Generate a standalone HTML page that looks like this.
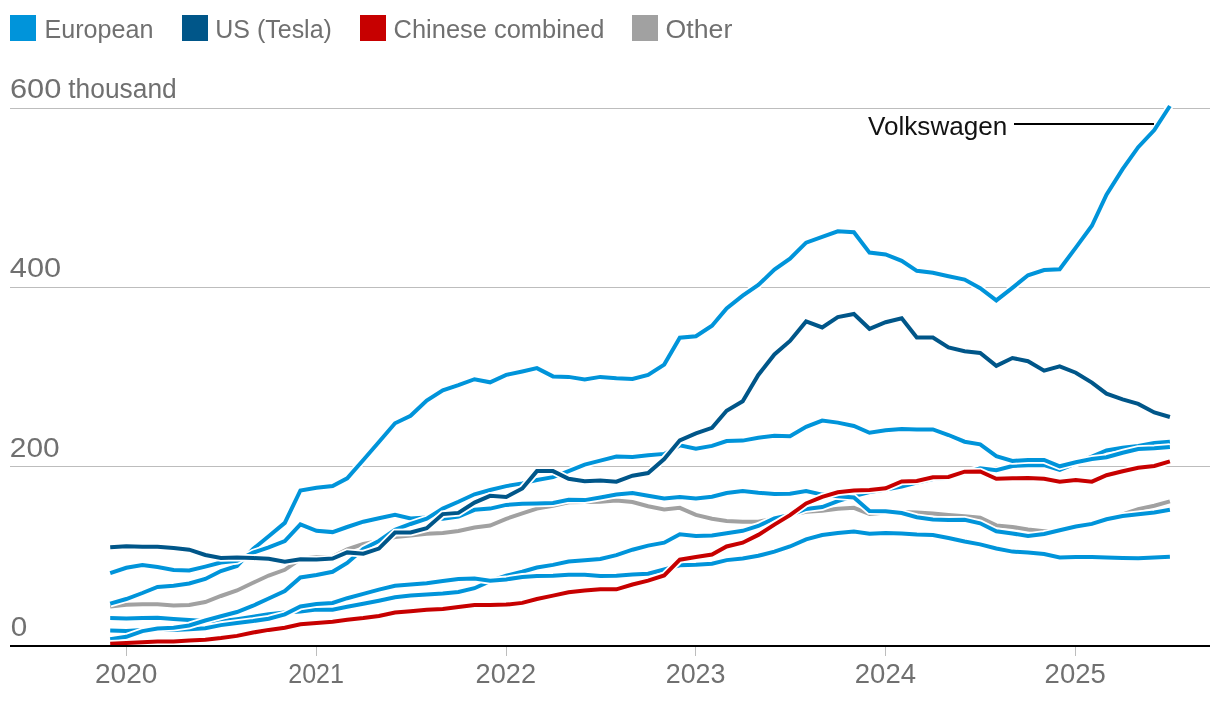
<!DOCTYPE html>
<html><head><meta charset="utf-8"><title>Chart</title>
<style>
html,body{margin:0;padding:0;background:#fff;}
body{width:1220px;height:704px;overflow:hidden;}
svg{display:block}
text{font-family:"Liberation Sans",sans-serif;font-size:26.5px;fill:#707070;}
.ax{font-size:27px}
.ln{fill:none;stroke-linejoin:miter;stroke-linecap:butt;}
</style></head><body>
<svg width="1220" height="704" viewBox="0 0 1220 704">
<rect width="1220" height="704" fill="#fff"/>
<rect x="10" y="15" width="26" height="26" fill="#0094da"/>
<text x="44.4" y="38" textLength="109" lengthAdjust="spacingAndGlyphs">European</text>
<rect x="182" y="15" width="26" height="26" fill="#005689"/>
<text x="215.3" y="38" textLength="116.6" lengthAdjust="spacingAndGlyphs">US (Tesla)</text>
<rect x="360" y="15" width="26" height="26" fill="#c70000"/>
<text x="393.6" y="38" textLength="210.7" lengthAdjust="spacingAndGlyphs">Chinese combined</text>
<rect x="632" y="15" width="26" height="26" fill="#a1a1a1"/>
<text x="665.6" y="38" textLength="66.7" lengthAdjust="spacingAndGlyphs">Other</text>
<rect x="10" y="108" width="1200" height="1" fill="#bdbdbd"/>
<rect x="10" y="287" width="1200" height="1" fill="#bdbdbd"/>
<rect x="10" y="466" width="1200" height="1" fill="#bdbdbd"/>
<text class="ax" y="98.2"><tspan x="9.9" textLength="51.4" lengthAdjust="spacingAndGlyphs">600</tspan><tspan> </tspan><tspan x="68.3" textLength="108.4" lengthAdjust="spacingAndGlyphs">thousand</tspan></text>
<text class="ax" x="9.8" y="277.1" textLength="51.3" lengthAdjust="spacingAndGlyphs">400</text>
<text class="ax" x="9.8" y="457.1" textLength="49.8" lengthAdjust="spacingAndGlyphs">200</text>
<text class="ax" x="10.7" y="635.7" textLength="16.5" lengthAdjust="spacingAndGlyphs">0</text>
<rect x="126" y="647" width="1" height="9" fill="#bdbdbd"/>
<text class="ax" x="95.0" y="683.1" textLength="62.5" lengthAdjust="spacingAndGlyphs">2020</text>
<rect x="316" y="647" width="1" height="9" fill="#bdbdbd"/>
<text class="ax" x="288.2" y="683.1" textLength="55.8" lengthAdjust="spacingAndGlyphs">2021</text>
<rect x="506" y="647" width="1" height="9" fill="#bdbdbd"/>
<text class="ax" x="475.6" y="683.1" textLength="60.4" lengthAdjust="spacingAndGlyphs">2022</text>
<rect x="695" y="647" width="1" height="9" fill="#bdbdbd"/>
<text class="ax" x="665.7" y="683.1" textLength="59.8" lengthAdjust="spacingAndGlyphs">2023</text>
<rect x="885" y="647" width="1" height="9" fill="#bdbdbd"/>
<text class="ax" x="854.8" y="683.1" textLength="61.2" lengthAdjust="spacingAndGlyphs">2024</text>
<rect x="1075" y="647" width="1" height="9" fill="#bdbdbd"/>
<text class="ax" x="1044.6" y="683.1" textLength="61.2" lengthAdjust="spacingAndGlyphs">2025</text>
<path class="ln" d="M110.2,606.6 L126.3,604.7 L142.4,604.3 L157.5,604.3 L173.6,605.6 L189.2,605.0 L205.3,602.0 L220.9,596.0 L237.0,590.5 L253.1,582.8 L268.7,575.5 L284.8,569.8 L300.4,559.0 L316.5,557.0 L332.6,556.8 L347.2,549.3 L363.3,544.0 L378.9,541.0 L395.0,537.0 L410.6,535.5 L426.7,533.8 L442.8,533.0 L458.4,531.0 L474.5,527.5 L490.1,525.6 L506.2,518.8 L522.3,513.4 L536.9,508.6 L553.0,505.7 L568.6,502.2 L584.7,502.0 L600.3,501.8 L616.4,500.6 L632.5,502.0 L648.1,506.2 L664.2,509.5 L679.8,507.8 L695.9,514.9 L712.0,518.8 L726.6,520.9 L742.7,521.7 L758.3,521.7 L774.4,518.5 L790.0,515.0 L806.1,511.8 L822.2,510.8 L837.8,508.8 L853.9,507.8 L869.5,514.0 L885.6,512.5 L901.7,512.0 L916.8,512.4 L932.9,513.6 L948.5,515.0 L964.6,516.2 L980.2,517.8 L996.3,525.4 L1012.4,527.0 L1028.0,529.4 L1044.1,531.2 L1059.7,530.5 L1075.8,526.0 L1091.9,523.0 L1106.5,518.5 L1122.6,514.5 L1138.2,509.1 L1154.3,505.7 L1169.9,501.4" stroke="#fff" stroke-width="7.6"/>
<path class="ln" d="M110.2,606.6 L126.3,604.7 L142.4,604.3 L157.5,604.3 L173.6,605.6 L189.2,605.0 L205.3,602.0 L220.9,596.0 L237.0,590.5 L253.1,582.8 L268.7,575.5 L284.8,569.8 L300.4,559.0 L316.5,557.0 L332.6,556.8 L347.2,549.3 L363.3,544.0 L378.9,541.0 L395.0,537.0 L410.6,535.5 L426.7,533.8 L442.8,533.0 L458.4,531.0 L474.5,527.5 L490.1,525.6 L506.2,518.8 L522.3,513.4 L536.9,508.6 L553.0,505.7 L568.6,502.2 L584.7,502.0 L600.3,501.8 L616.4,500.6 L632.5,502.0 L648.1,506.2 L664.2,509.5 L679.8,507.8 L695.9,514.9 L712.0,518.8 L726.6,520.9 L742.7,521.7 L758.3,521.7 L774.4,518.5 L790.0,515.0 L806.1,511.8 L822.2,510.8 L837.8,508.8 L853.9,507.8 L869.5,514.0 L885.6,512.5 L901.7,512.0 L916.8,512.4 L932.9,513.6 L948.5,515.0 L964.6,516.2 L980.2,517.8 L996.3,525.4 L1012.4,527.0 L1028.0,529.4 L1044.1,531.2 L1059.7,530.5 L1075.8,526.0 L1091.9,523.0 L1106.5,518.5 L1122.6,514.5 L1138.2,509.1 L1154.3,505.7 L1169.9,501.4" stroke="#a1a1a1" stroke-width="4.0"/>
<path class="ln" d="M110.2,603.7 L126.3,599.0 L142.4,593.0 L157.5,586.9 L173.6,585.8 L189.2,583.5 L205.3,579.0 L220.9,571.0 L237.0,566.0 L253.1,549.0 L268.7,536.2 L284.8,522.9 L300.4,490.5 L316.5,487.8 L332.6,486.1 L347.2,478.3 L363.3,460.0 L378.9,442.0 L395.0,423.3 L410.6,415.8 L426.7,400.5 L442.8,390.3 L458.4,385.2 L474.5,379.2 L490.1,382.3 L506.2,374.9 L522.3,371.5 L536.9,368.1 L553.0,376.4 L568.6,376.9 L584.7,379.5 L600.3,376.9 L616.4,378.3 L632.5,378.9 L648.1,374.9 L664.2,364.6 L679.8,337.7 L695.9,336.3 L712.0,325.8 L726.6,308.5 L742.7,295.7 L758.3,285.0 L774.4,269.6 L790.0,258.6 L806.1,242.7 L822.2,236.9 L837.8,231.3 L853.9,232.2 L869.5,252.6 L885.6,254.4 L901.7,260.9 L916.8,270.8 L932.9,272.8 L948.5,276.2 L964.6,279.6 L980.2,288.2 L996.3,300.4 L1012.4,287.8 L1028.0,275.3 L1044.1,270.0 L1059.7,269.2 L1075.8,247.6 L1091.9,225.8 L1106.5,194.6 L1122.6,169.2 L1138.2,147.2 L1154.3,130.0 L1169.9,106.0" stroke="#fff" stroke-width="7.6"/>
<path class="ln" d="M110.2,603.7 L126.3,599.0 L142.4,593.0 L157.5,586.9 L173.6,585.8 L189.2,583.5 L205.3,579.0 L220.9,571.0 L237.0,566.0 L253.1,549.0 L268.7,536.2 L284.8,522.9 L300.4,490.5 L316.5,487.8 L332.6,486.1 L347.2,478.3 L363.3,460.0 L378.9,442.0 L395.0,423.3 L410.6,415.8 L426.7,400.5 L442.8,390.3 L458.4,385.2 L474.5,379.2 L490.1,382.3 L506.2,374.9 L522.3,371.5 L536.9,368.1 L553.0,376.4 L568.6,376.9 L584.7,379.5 L600.3,376.9 L616.4,378.3 L632.5,378.9 L648.1,374.9 L664.2,364.6 L679.8,337.7 L695.9,336.3 L712.0,325.8 L726.6,308.5 L742.7,295.7 L758.3,285.0 L774.4,269.6 L790.0,258.6 L806.1,242.7 L822.2,236.9 L837.8,231.3 L853.9,232.2 L869.5,252.6 L885.6,254.4 L901.7,260.9 L916.8,270.8 L932.9,272.8 L948.5,276.2 L964.6,279.6 L980.2,288.2 L996.3,300.4 L1012.4,287.8 L1028.0,275.3 L1044.1,270.0 L1059.7,269.2 L1075.8,247.6 L1091.9,225.8 L1106.5,194.6 L1122.6,169.2 L1138.2,147.2 L1154.3,130.0 L1169.9,106.0" stroke="#0094da" stroke-width="4.0"/>
<path class="ln" d="M110.2,618.1 L126.3,618.4 L142.4,618.1 L157.5,617.8 L173.6,618.9 L189.2,620.1 L205.3,621.0 L220.9,621.3 L237.0,619.2 L253.1,616.8 L268.7,614.2 L284.8,612.5 L300.4,611.5 L316.5,609.6 L332.6,609.7 L347.2,606.7 L363.3,603.8 L378.9,600.7 L395.0,597.3 L410.6,595.6 L426.7,594.4 L442.8,593.6 L458.4,591.9 L474.5,588.2 L490.1,581.1 L506.2,575.7 L522.3,571.7 L536.9,567.5 L553.0,564.9 L568.6,561.5 L584.7,560.3 L600.3,559.0 L616.4,555.2 L632.5,549.7 L648.1,545.6 L664.2,542.7 L679.8,534.2 L695.9,535.9 L712.0,535.4 L726.6,533.2 L742.7,530.8 L758.3,526.0 L774.4,518.3 L790.0,515.0 L806.1,509.0 L822.2,507.1 L837.8,501.1 L853.9,496.0 L869.5,492.0 L885.6,489.5 L901.7,486.6 L916.8,482.6 L932.9,479.0 L948.5,477.8 L964.6,473.0 L980.2,468.2 L996.3,470.3 L1012.4,466.0 L1028.0,465.2 L1044.1,465.2 L1059.7,469.8 L1075.8,463.4 L1091.9,456.5 L1106.5,450.5 L1122.6,447.7 L1138.2,446.0 L1154.3,443.1 L1169.9,441.7" stroke="#fff" stroke-width="7.6"/>
<path class="ln" d="M110.2,618.1 L126.3,618.4 L142.4,618.1 L157.5,617.8 L173.6,618.9 L189.2,620.1 L205.3,621.0 L220.9,621.3 L237.0,619.2 L253.1,616.8 L268.7,614.2 L284.8,612.5 L300.4,611.5 L316.5,609.6 L332.6,609.7 L347.2,606.7 L363.3,603.8 L378.9,600.7 L395.0,597.3 L410.6,595.6 L426.7,594.4 L442.8,593.6 L458.4,591.9 L474.5,588.2 L490.1,581.1 L506.2,575.7 L522.3,571.7 L536.9,567.5 L553.0,564.9 L568.6,561.5 L584.7,560.3 L600.3,559.0 L616.4,555.2 L632.5,549.7 L648.1,545.6 L664.2,542.7 L679.8,534.2 L695.9,535.9 L712.0,535.4 L726.6,533.2 L742.7,530.8 L758.3,526.0 L774.4,518.3 L790.0,515.0 L806.1,509.0 L822.2,507.1 L837.8,501.1 L853.9,496.0 L869.5,492.0 L885.6,489.5 L901.7,486.6 L916.8,482.6 L932.9,479.0 L948.5,477.8 L964.6,473.0 L980.2,468.2 L996.3,470.3 L1012.4,466.0 L1028.0,465.2 L1044.1,465.2 L1059.7,469.8 L1075.8,463.4 L1091.9,456.5 L1106.5,450.5 L1122.6,447.7 L1138.2,446.0 L1154.3,443.1 L1169.9,441.7" stroke="#0094da" stroke-width="4.0"/>
<path class="ln" d="M110.2,630.6 L126.3,630.9 L142.4,630.0 L157.5,629.8 L173.6,630.0 L189.2,629.3 L205.3,628.3 L220.9,625.1 L237.0,622.9 L253.1,621.0 L268.7,618.7 L284.8,614.4 L300.4,606.5 L316.5,604.1 L332.6,602.9 L347.2,598.2 L363.3,593.9 L378.9,589.6 L395.0,585.7 L410.6,584.5 L426.7,583.2 L442.8,581.1 L458.4,579.1 L474.5,578.4 L490.1,580.8 L506.2,579.4 L522.3,576.9 L536.9,576.0 L553.0,575.7 L568.6,574.8 L584.7,574.8 L600.3,576.0 L616.4,575.7 L632.5,574.6 L648.1,573.8 L664.2,569.5 L679.8,565.2 L695.9,564.7 L712.0,563.8 L726.6,560.1 L742.7,558.4 L758.3,555.8 L774.4,551.6 L790.0,546.5 L806.1,539.3 L822.2,535.0 L837.8,532.9 L853.9,531.6 L869.5,533.7 L885.6,532.9 L901.7,533.4 L916.8,534.6 L932.9,535.0 L948.5,538.0 L964.6,541.5 L980.2,544.4 L996.3,548.5 L1012.4,551.6 L1028.0,552.5 L1044.1,554.0 L1059.7,557.5 L1075.8,557.0 L1091.9,557.1 L1106.5,557.5 L1122.6,558.0 L1138.2,558.3 L1154.3,557.5 L1169.9,556.8" stroke="#fff" stroke-width="7.6"/>
<path class="ln" d="M110.2,630.6 L126.3,630.9 L142.4,630.0 L157.5,629.8 L173.6,630.0 L189.2,629.3 L205.3,628.3 L220.9,625.1 L237.0,622.9 L253.1,621.0 L268.7,618.7 L284.8,614.4 L300.4,606.5 L316.5,604.1 L332.6,602.9 L347.2,598.2 L363.3,593.9 L378.9,589.6 L395.0,585.7 L410.6,584.5 L426.7,583.2 L442.8,581.1 L458.4,579.1 L474.5,578.4 L490.1,580.8 L506.2,579.4 L522.3,576.9 L536.9,576.0 L553.0,575.7 L568.6,574.8 L584.7,574.8 L600.3,576.0 L616.4,575.7 L632.5,574.6 L648.1,573.8 L664.2,569.5 L679.8,565.2 L695.9,564.7 L712.0,563.8 L726.6,560.1 L742.7,558.4 L758.3,555.8 L774.4,551.6 L790.0,546.5 L806.1,539.3 L822.2,535.0 L837.8,532.9 L853.9,531.6 L869.5,533.7 L885.6,532.9 L901.7,533.4 L916.8,534.6 L932.9,535.0 L948.5,538.0 L964.6,541.5 L980.2,544.4 L996.3,548.5 L1012.4,551.6 L1028.0,552.5 L1044.1,554.0 L1059.7,557.5 L1075.8,557.0 L1091.9,557.1 L1106.5,557.5 L1122.6,558.0 L1138.2,558.3 L1154.3,557.5 L1169.9,556.8" stroke="#0094da" stroke-width="4.0"/>
<path class="ln" d="M110.2,573.1 L126.3,567.8 L142.4,565.0 L157.5,567.1 L173.6,569.9 L189.2,570.5 L205.3,566.6 L220.9,562.5 L237.0,560.7 L253.1,552.7 L268.7,547.4 L284.8,541.0 L300.4,524.4 L316.5,530.8 L332.6,532.1 L347.2,527.0 L363.3,521.7 L378.9,518.3 L395.0,514.8 L410.6,518.5 L426.7,517.6 L442.8,518.8 L458.4,516.6 L474.5,509.8 L490.1,508.6 L506.2,504.9 L522.3,503.8 L536.9,503.5 L553.0,503.0 L568.6,499.7 L584.7,500.1 L600.3,497.5 L616.4,494.6 L632.5,493.0 L648.1,495.8 L664.2,498.4 L679.8,497.1 L695.9,498.4 L712.0,496.8 L726.6,493.0 L742.7,491.0 L758.3,492.7 L774.4,494.0 L790.0,493.7 L806.1,491.0 L822.2,494.6 L837.8,496.3 L853.9,497.4 L869.5,511.0 L885.6,511.3 L901.7,513.0 L916.8,517.2 L932.9,519.5 L948.5,519.9 L964.6,519.8 L980.2,523.3 L996.3,531.3 L1012.4,533.5 L1028.0,536.0 L1044.1,534.0 L1059.7,530.2 L1075.8,526.5 L1091.9,523.9 L1106.5,519.3 L1122.6,516.0 L1138.2,514.2 L1154.3,512.5 L1169.9,509.8" stroke="#fff" stroke-width="7.6"/>
<path class="ln" d="M110.2,573.1 L126.3,567.8 L142.4,565.0 L157.5,567.1 L173.6,569.9 L189.2,570.5 L205.3,566.6 L220.9,562.5 L237.0,560.7 L253.1,552.7 L268.7,547.4 L284.8,541.0 L300.4,524.4 L316.5,530.8 L332.6,532.1 L347.2,527.0 L363.3,521.7 L378.9,518.3 L395.0,514.8 L410.6,518.5 L426.7,517.6 L442.8,518.8 L458.4,516.6 L474.5,509.8 L490.1,508.6 L506.2,504.9 L522.3,503.8 L536.9,503.5 L553.0,503.0 L568.6,499.7 L584.7,500.1 L600.3,497.5 L616.4,494.6 L632.5,493.0 L648.1,495.8 L664.2,498.4 L679.8,497.1 L695.9,498.4 L712.0,496.8 L726.6,493.0 L742.7,491.0 L758.3,492.7 L774.4,494.0 L790.0,493.7 L806.1,491.0 L822.2,494.6 L837.8,496.3 L853.9,497.4 L869.5,511.0 L885.6,511.3 L901.7,513.0 L916.8,517.2 L932.9,519.5 L948.5,519.9 L964.6,519.8 L980.2,523.3 L996.3,531.3 L1012.4,533.5 L1028.0,536.0 L1044.1,534.0 L1059.7,530.2 L1075.8,526.5 L1091.9,523.9 L1106.5,519.3 L1122.6,516.0 L1138.2,514.2 L1154.3,512.5 L1169.9,509.8" stroke="#0094da" stroke-width="4.0"/>
<path class="ln" d="M110.2,639.3 L126.3,636.8 L142.4,631.1 L157.5,628.5 L173.6,627.7 L189.2,625.5 L205.3,620.5 L220.9,616.3 L237.0,612.0 L253.1,605.7 L268.7,598.5 L284.8,591.0 L300.4,577.5 L316.5,575.0 L332.6,571.8 L347.2,563.0 L363.3,548.9 L378.9,541.0 L395.0,529.8 L410.6,524.0 L426.7,518.6 L442.8,508.6 L458.4,501.8 L474.5,494.3 L490.1,490.0 L506.2,486.1 L522.3,483.4 L536.9,480.0 L553.0,477.1 L568.6,471.1 L584.7,464.6 L600.3,460.6 L616.4,456.6 L632.5,456.9 L648.1,455.2 L664.2,453.9 L679.8,445.4 L695.9,448.8 L712.0,445.9 L726.6,441.1 L742.7,440.6 L758.3,437.7 L774.4,435.7 L790.0,436.3 L806.1,426.8 L822.2,420.6 L837.8,422.6 L853.9,426.0 L869.5,432.8 L885.6,430.3 L901.7,429.1 L916.8,429.4 L932.9,429.4 L948.5,435.0 L964.6,441.7 L980.2,444.4 L996.3,456.1 L1012.4,460.9 L1028.0,460.0 L1044.1,460.0 L1059.7,466.3 L1075.8,462.3 L1091.9,459.0 L1106.5,457.3 L1122.6,452.8 L1138.2,449.0 L1154.3,448.2 L1169.9,447.0" stroke="#fff" stroke-width="7.6"/>
<path class="ln" d="M110.2,639.3 L126.3,636.8 L142.4,631.1 L157.5,628.5 L173.6,627.7 L189.2,625.5 L205.3,620.5 L220.9,616.3 L237.0,612.0 L253.1,605.7 L268.7,598.5 L284.8,591.0 L300.4,577.5 L316.5,575.0 L332.6,571.8 L347.2,563.0 L363.3,548.9 L378.9,541.0 L395.0,529.8 L410.6,524.0 L426.7,518.6 L442.8,508.6 L458.4,501.8 L474.5,494.3 L490.1,490.0 L506.2,486.1 L522.3,483.4 L536.9,480.0 L553.0,477.1 L568.6,471.1 L584.7,464.6 L600.3,460.6 L616.4,456.6 L632.5,456.9 L648.1,455.2 L664.2,453.9 L679.8,445.4 L695.9,448.8 L712.0,445.9 L726.6,441.1 L742.7,440.6 L758.3,437.7 L774.4,435.7 L790.0,436.3 L806.1,426.8 L822.2,420.6 L837.8,422.6 L853.9,426.0 L869.5,432.8 L885.6,430.3 L901.7,429.1 L916.8,429.4 L932.9,429.4 L948.5,435.0 L964.6,441.7 L980.2,444.4 L996.3,456.1 L1012.4,460.9 L1028.0,460.0 L1044.1,460.0 L1059.7,466.3 L1075.8,462.3 L1091.9,459.0 L1106.5,457.3 L1122.6,452.8 L1138.2,449.0 L1154.3,448.2 L1169.9,447.0" stroke="#0094da" stroke-width="4.0"/>
<path class="ln" d="M110.2,643.7 L126.3,643.1 L142.4,642.3 L157.5,641.6 L173.6,641.6 L189.2,640.5 L205.3,639.8 L220.9,638.1 L237.0,635.9 L253.1,632.5 L268.7,629.9 L284.8,627.7 L300.4,624.3 L316.5,622.9 L332.6,621.7 L347.2,619.8 L363.3,618.1 L378.9,616.0 L395.0,612.6 L410.6,611.3 L426.7,609.7 L442.8,609.1 L458.4,607.0 L474.5,605.0 L490.1,605.0 L506.2,604.6 L522.3,602.9 L536.9,599.0 L553.0,595.6 L568.6,592.2 L584.7,590.5 L600.3,589.3 L616.4,589.3 L632.5,584.5 L648.1,580.6 L664.2,575.4 L679.8,559.7 L695.9,557.0 L712.0,554.6 L726.6,546.5 L742.7,542.7 L758.3,534.9 L774.4,524.6 L790.0,515.2 L806.1,503.4 L822.2,496.9 L837.8,492.3 L853.9,490.6 L869.5,490.0 L885.6,488.3 L901.7,481.5 L916.8,481.0 L932.9,477.3 L948.5,476.9 L964.6,471.7 L980.2,471.5 L996.3,478.8 L1012.4,478.3 L1028.0,478.0 L1044.1,478.8 L1059.7,481.7 L1075.8,480.0 L1091.9,481.7 L1106.5,475.2 L1122.6,471.3 L1138.2,467.7 L1154.3,466.0 L1169.9,461.4" stroke="#fff" stroke-width="7.6"/>
<path class="ln" d="M110.2,643.7 L126.3,643.1 L142.4,642.3 L157.5,641.6 L173.6,641.6 L189.2,640.5 L205.3,639.8 L220.9,638.1 L237.0,635.9 L253.1,632.5 L268.7,629.9 L284.8,627.7 L300.4,624.3 L316.5,622.9 L332.6,621.7 L347.2,619.8 L363.3,618.1 L378.9,616.0 L395.0,612.6 L410.6,611.3 L426.7,609.7 L442.8,609.1 L458.4,607.0 L474.5,605.0 L490.1,605.0 L506.2,604.6 L522.3,602.9 L536.9,599.0 L553.0,595.6 L568.6,592.2 L584.7,590.5 L600.3,589.3 L616.4,589.3 L632.5,584.5 L648.1,580.6 L664.2,575.4 L679.8,559.7 L695.9,557.0 L712.0,554.6 L726.6,546.5 L742.7,542.7 L758.3,534.9 L774.4,524.6 L790.0,515.2 L806.1,503.4 L822.2,496.9 L837.8,492.3 L853.9,490.6 L869.5,490.0 L885.6,488.3 L901.7,481.5 L916.8,481.0 L932.9,477.3 L948.5,476.9 L964.6,471.7 L980.2,471.5 L996.3,478.8 L1012.4,478.3 L1028.0,478.0 L1044.1,478.8 L1059.7,481.7 L1075.8,480.0 L1091.9,481.7 L1106.5,475.2 L1122.6,471.3 L1138.2,467.7 L1154.3,466.0 L1169.9,461.4" stroke="#c70000" stroke-width="4.0"/>
<path class="ln" d="M110.2,547.3 L126.3,546.2 L142.4,546.7 L157.5,546.7 L173.6,547.9 L189.2,549.7 L205.3,555.0 L220.9,557.9 L237.0,557.4 L253.1,558.0 L268.7,558.8 L284.8,561.8 L300.4,559.2 L316.5,559.5 L332.6,558.5 L347.2,552.4 L363.3,553.7 L378.9,548.6 L395.0,532.6 L410.6,532.4 L426.7,528.2 L442.8,514.1 L458.4,512.9 L474.5,502.6 L490.1,495.8 L506.2,497.0 L522.3,488.5 L536.9,471.1 L553.0,471.1 L568.6,478.8 L584.7,481.3 L600.3,480.5 L616.4,481.7 L632.5,475.7 L648.1,473.0 L664.2,459.0 L679.8,440.3 L695.9,433.4 L712.0,427.8 L726.6,410.8 L742.7,401.2 L758.3,375.0 L774.4,354.5 L790.0,340.9 L806.1,321.4 L822.2,327.4 L837.8,317.1 L853.9,314.0 L869.5,328.8 L885.6,322.2 L901.7,318.2 L916.8,337.6 L932.9,337.6 L948.5,347.5 L964.6,351.2 L980.2,352.9 L996.3,365.9 L1012.4,358.0 L1028.0,361.2 L1044.1,370.7 L1059.7,366.3 L1075.8,372.7 L1091.9,382.6 L1106.5,393.7 L1122.6,399.3 L1138.2,403.9 L1154.3,412.4 L1169.9,417.0" stroke="#fff" stroke-width="7.6"/>
<path class="ln" d="M110.2,547.3 L126.3,546.2 L142.4,546.7 L157.5,546.7 L173.6,547.9 L189.2,549.7 L205.3,555.0 L220.9,557.9 L237.0,557.4 L253.1,558.0 L268.7,558.8 L284.8,561.8 L300.4,559.2 L316.5,559.5 L332.6,558.5 L347.2,552.4 L363.3,553.7 L378.9,548.6 L395.0,532.6 L410.6,532.4 L426.7,528.2 L442.8,514.1 L458.4,512.9 L474.5,502.6 L490.1,495.8 L506.2,497.0 L522.3,488.5 L536.9,471.1 L553.0,471.1 L568.6,478.8 L584.7,481.3 L600.3,480.5 L616.4,481.7 L632.5,475.7 L648.1,473.0 L664.2,459.0 L679.8,440.3 L695.9,433.4 L712.0,427.8 L726.6,410.8 L742.7,401.2 L758.3,375.0 L774.4,354.5 L790.0,340.9 L806.1,321.4 L822.2,327.4 L837.8,317.1 L853.9,314.0 L869.5,328.8 L885.6,322.2 L901.7,318.2 L916.8,337.6 L932.9,337.6 L948.5,347.5 L964.6,351.2 L980.2,352.9 L996.3,365.9 L1012.4,358.0 L1028.0,361.2 L1044.1,370.7 L1059.7,366.3 L1075.8,372.7 L1091.9,382.6 L1106.5,393.7 L1122.6,399.3 L1138.2,403.9 L1154.3,412.4 L1169.9,417.0" stroke="#005689" stroke-width="4.0"/>
<rect x="10" y="645" width="1200" height="2" fill="#000"/>
<rect x="1014" y="123" width="140" height="2" fill="#000"/>
<text x="868" y="135.2" textLength="139.3" lengthAdjust="spacingAndGlyphs" style="fill:#121212;font-size:25px">Volkswagen</text>
</svg></body></html>
